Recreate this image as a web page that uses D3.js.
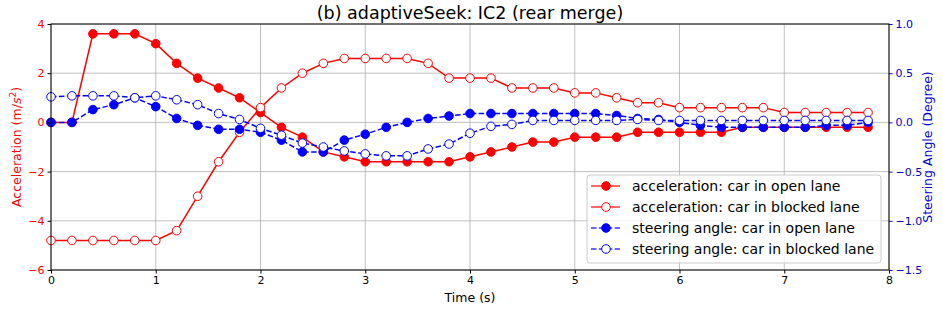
<!DOCTYPE html>
<html>
<head>
<meta charset="utf-8">
<script src="https://cdn.jsdelivr.net/npm/d3@7"></script>
<style>
  body { margin: 0; background: #fff; }
  svg { font-family: "DejaVu Sans", sans-serif; }
</style>
</head>
<body>
<div id="chart"></div>
<script>
// time steps 0 .. 7.8 s, every 0.2 s
const time = d3.range(40).map(i => +(i * 0.2).toFixed(1));

const accelOpen = [0, 0, 3.6, 3.6, 3.6, 3.2, 2.4, 1.8, 1.4, 1.0,
    0.4, -0.2, -0.6, -1.2, -1.4, -1.6, -1.6, -1.6, -1.6, -1.6,
    -1.4, -1.2, -1.0, -0.8, -0.8, -0.6, -0.6, -0.6, -0.4, -0.4,
    -0.4, -0.4, -0.4, -0.2, -0.2, -0.2, -0.2, -0.2, -0.2, -0.2];

const accelBlocked = [-4.8, -4.8, -4.8, -4.8, -4.8, -4.8, -4.4, -3.0, -1.6, -0.4,
    0.6, 1.4, 2.0, 2.4, 2.6, 2.6, 2.6, 2.6, 2.4, 1.8,
    1.8, 1.8, 1.4, 1.4, 1.4, 1.2, 1.2, 1.0, 0.8, 0.8,
    0.6, 0.6, 0.6, 0.6, 0.6, 0.4, 0.4, 0.4, 0.4, 0.4];

const steerOpen = [0, 0, 0.13, 0.18, 0.25, 0.16, 0.04, -0.03, -0.07, -0.07,
    -0.1, -0.18, -0.3, -0.3, -0.18, -0.12, -0.05, 0.0, 0.04, 0.065,
    0.09, 0.09, 0.09, 0.09, 0.09, 0.09, 0.09, 0.07, 0.04, 0.03,
    0.0, -0.03, -0.05, -0.05, -0.05, -0.05, -0.05, -0.03, -0.03, 0.0];

const steerBlocked = [0.26, 0.27, 0.27, 0.27, 0.25, 0.27, 0.23, 0.18, 0.09, 0.03,
    -0.06, -0.13, -0.21, -0.25, -0.29, -0.32, -0.34, -0.34, -0.27, -0.22,
    -0.11, -0.04, -0.02, 0.02, 0.02, 0.02, 0.02, 0.02, 0.03, 0.02,
    0.02, 0.02, 0.02, 0.02, 0.02, 0.02, 0.02, 0.02, 0.02, 0.02];

const xTicks = [0, 1, 2, 3, 4, 5, 6, 7, 8];
const accelTicks = [-6, -4, -2, 0, 2, 4];
const steerTicks = [-1.5, -1.0, -0.5, 0.0, 0.5, 1.0];

const series = [
    { name: "acceleration: car in open lane", values: accelOpen, axis: "left", color: "#ff0000", filled: true, dashed: false },
    { name: "acceleration: car in blocked lane", values: accelBlocked, axis: "left", color: "#ff0000", filled: false, dashed: false },
    { name: "steering angle: car in open lane", values: steerOpen, axis: "right", color: "#0000ff", filled: true, dashed: true },
    { name: "steering angle: car in blocked lane", values: steerBlocked, axis: "right", color: "#0000ff", filled: false, dashed: true },
];

const width = 943;
const height = 311;
const margin = { top: 24, right: 54, bottom: 41, left: 51 };
const w = width - margin.left - margin.right;
const h = height - margin.top - margin.bottom;

const svg = d3.select("#chart").append("svg")
    .attr("width", width)
    .attr("height", height);

const g = svg.append("g")
    .attr("transform", "translate(" + margin.left + "," + margin.top + ")");

const x = d3.scaleLinear().domain([0, 8]).range([0, w]);
const yL = d3.scaleLinear().domain([-6, 4]).range([h, 0]);
const yR = d3.scaleLinear().domain([-1.5, 1.0]).range([h, 0]);

// grid
g.append("g").selectAll("line").data(xTicks).enter().append("line")
    .attr("x1", d => x(d)).attr("x2", d => x(d))
    .attr("y1", 0).attr("y2", h)
    .attr("stroke", "#b0b0b0").attr("stroke-width", 0.8);
g.append("g").selectAll("line").data(accelTicks).enter().append("line")
    .attr("x1", 0).attr("x2", w)
    .attr("y1", d => yL(d)).attr("y2", d => yL(d))
    .attr("stroke", "#b0b0b0").attr("stroke-width", 0.8);

svg.append("clipPath").attr("id", "clip")
    .append("rect").attr("x", -6).attr("y", -6).attr("width", w + 12).attr("height", h + 12);

const plot = g.append("g").attr("clip-path", "url(#clip)");

series.forEach(s => {
    const yS = s.axis === "left" ? yL : yR;
    const line = d3.line().x((d, i) => x(time[i])).y(d => yS(d));
    plot.append("path")
        .datum(s.values)
        .attr("fill", "none")
        .attr("stroke", s.color)
        .attr("stroke-width", 1.5)
        .attr("stroke-dasharray", s.dashed ? "5.5,2.4" : null)
        .attr("d", line);
    plot.selectAll(null).data(s.values).enter().append("circle")
        .attr("cx", (d, i) => x(time[i]))
        .attr("cy", d => yS(d))
        .attr("r", 4.3)
        .attr("fill", s.filled ? s.color : "#fff")
        .attr("stroke", s.color)
        .attr("stroke-width", 1);
});

// axes
const xAxis = g.append("g")
    .attr("transform", "translate(0," + h + ")")
    .call(d3.axisBottom(x).tickValues(xTicks).tickSize(3.5).tickPadding(3).tickFormat(d3.format("d")));

const leftAxis = g.append("g")
    .call(d3.axisLeft(yL).tickValues(accelTicks).tickSize(3.5).tickPadding(3).tickFormat(d => d < 0 ? "\u2212" + Math.abs(d) : d));

const rightAxis = g.append("g")
    .attr("transform", "translate(" + w + ",0)")
    .call(d3.axisRight(yR).tickValues(steerTicks).tickSize(3.5).tickPadding(3).tickFormat(d => d < 0 ? "\u2212" + Math.abs(d).toFixed(1) : d.toFixed(1)));

[xAxis, leftAxis, rightAxis].forEach(a => {
    a.select(".domain").remove();
    a.selectAll("text").style("font-family", "DejaVu Sans").style("font-size", "11px");
});
xAxis.selectAll("line").attr("stroke", "#000");
xAxis.selectAll("text").attr("fill", "#000");
leftAxis.selectAll("line").attr("stroke", "#000");
leftAxis.selectAll("text").attr("fill", "#ff0000");
rightAxis.selectAll("line").attr("stroke", "#0000ff");
rightAxis.selectAll("text").attr("fill", "#0000cc");

// frame
g.append("rect")
    .attr("width", w).attr("height", h)
    .attr("fill", "none").attr("stroke", "#000").attr("stroke-width", 1);

// title and labels
svg.append("text")
    .attr("x", margin.left + w / 2).attr("y", 19)
    .attr("text-anchor", "middle")
    .style("font-size", "17.5px")
    .text("(b) adaptiveSeek: IC2 (rear merge)");

svg.append("text")
    .attr("x", margin.left + w / 2).attr("y", 302)
    .attr("text-anchor", "middle")
    .style("font-size", "12.5px")
    .text("Time (s)");

const yl = svg.append("text")
    .attr("transform", "translate(21," + (margin.top + h / 2) + ") rotate(-90)")
    .attr("text-anchor", "middle")
    .attr("fill", "#ff0000")
    .style("font-size", "12.5px");
yl.append("tspan").text("Acceleration (m/");
yl.append("tspan").style("font-style", "italic").text("s");
yl.append("tspan").attr("dy", -5).style("font-size", "9px").text("2");
yl.append("tspan").attr("dy", 5).text(")");

svg.append("text")
    .attr("transform", "translate(932," + (margin.top + h / 2) + ") rotate(-90)")
    .attr("text-anchor", "middle")
    .attr("fill", "#0000cc")
    .style("font-size", "12.5px")
    .text("Steering Angle (Degree)");

// legend
const lg = g.append("g").attr("transform", "translate(" + (587 - margin.left) + "," + (175 - margin.top) + ")");
lg.append("rect")
    .attr("width", 294).attr("height", 88)
    .attr("rx", 3)
    .attr("fill", "#fff").attr("fill-opacity", 0.8)
    .attr("stroke", "#cccccc");

series.forEach((s, i) => {
    const row = lg.append("g").attr("transform", "translate(0," + (11 + i * 21) + ")");
    row.append("line")
        .attr("x1", 4).attr("x2", 33)
        .attr("stroke", s.color).attr("stroke-width", 1.5)
        .attr("stroke-opacity", 0.8)
        .attr("stroke-dasharray", s.dashed ? "5.5,2.4" : null);
    row.append("circle")
        .attr("cx", 19).attr("r", 4.3)
        .attr("fill", s.filled ? s.color : "#fff")
        .attr("stroke", s.color);
    row.append("text")
        .attr("x", 45).attr("dy", "0.35em")
        .style("font-size", "14px")
        .text(s.name);
});
</script>
</body>
</html>
